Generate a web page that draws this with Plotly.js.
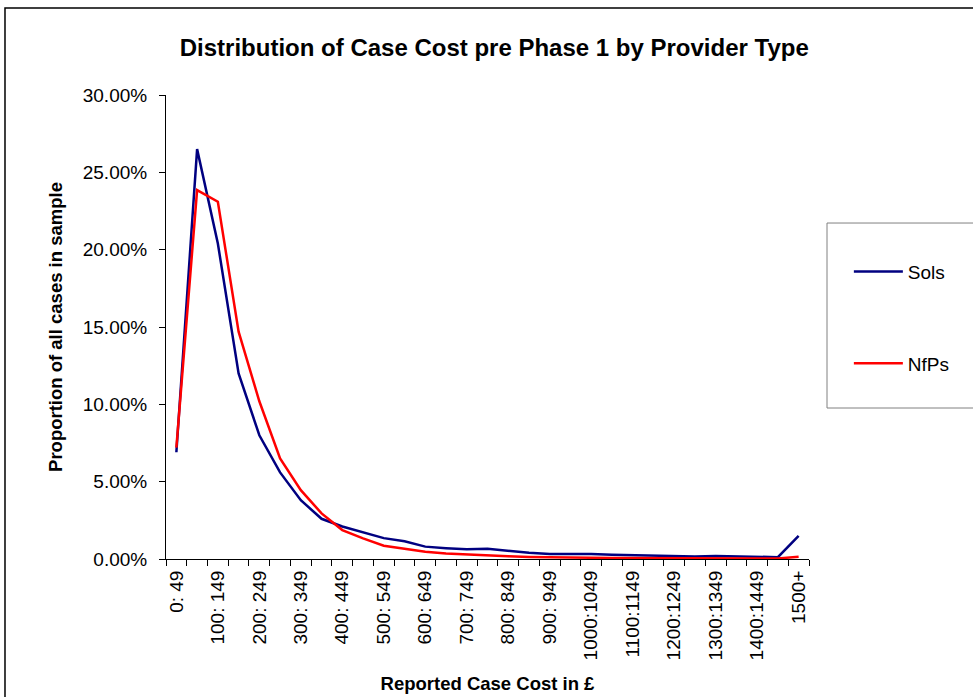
<!DOCTYPE html>
<html>
<head>
<meta charset="utf-8">
<script src="https://cdn.plot.ly/plotly-3.0.1.min.js"></script>
<style>
  html, body { margin: 0; padding: 0; background: white; }
  #chart { width: 973px; height: 697px; }
</style>
</head>
<body>
<div id="chart"></div>
<script>
/* cost bands (£) — every other one is labelled on the axis */
const BANDS = [
  '0: 49', '50: 99', '100: 149', '150: 199', '200: 249', '250: 299',
  '300: 349', '350: 399', '400: 449', '450: 499', '500: 549', '550: 599',
  '600: 649', '650: 699', '700: 749', '750: 799', '800: 849', '850: 899',
  '900: 949', '950: 999', '1000:1049', '1050:1099', '1100:1149', '1150:1199',
  '1200:1249', '1250:1299', '1300:1349', '1350:1399', '1400:1449', '1450:1499',
  '1500+'
];

/* proportion of all cases, in % */
const SOLS = [
  6.9, 26.5, 20.4, 12.0, 8.0, 5.6, 3.8, 2.6, 2.1, 1.7, 1.35, 1.15,
  0.8, 0.7, 0.63, 0.67, 0.55, 0.4, 0.33, 0.33, 0.32, 0.27, 0.24, 0.21,
  0.19, 0.16, 0.19, 0.16, 0.14, 0.12, 1.5
];
const NFPS = [
  7.2, 23.85, 23.1, 14.7, 10.2, 6.5, 4.45, 2.95, 1.87, 1.33, 0.86, 0.65,
  0.47, 0.35, 0.28, 0.22, 0.17, 0.13, 0.1, 0.09, 0.08, 0.07, 0.06, 0.05,
  0.05, 0.04, 0.04, 0.04, 0.03, 0.03, 0.15
];

const Y_TICKS = [0, 5, 10, 15, 20, 25, 30];

const FONT = 'Liberation Sans, Arial, sans-serif';

const traces = [
  { name: 'Sols', y: SOLS, color: '#000080', group: 'a' },
  { name: 'NfPs', y: NFPS, color: '#ff0000', group: 'b' },
].map(s => ({
  type: 'scatter', mode: 'lines',
  x: BANDS, y: s.y, name: s.name, legendgroup: s.group,
  line: { color: s.color, width: 2.5 },
  hoverinfo: 'skip',
}));

const layout = {
  width: 973, height: 697,
  paper_bgcolor: 'white', plot_bgcolor: 'white',
  font: { family: FONT, size: 19, color: '#000' },
  margin: { l: 166, r: 164, t: 95, b: 138 },
  showlegend: true,
  title: {
    text: '<b>Distribution of Case Cost pre Phase 1 by Provider Type</b>',
    font: { size: 24, family: FONT, color: '#000' },
    x: 0.508, xanchor: 'center', y: 1 - 48 / 697, yanchor: 'middle',
  },
  xaxis: {
    type: 'category', categoryorder: 'array', categoryarray: BANDS,
    range: [-0.5, BANDS.length - 0.5],
    tickmode: 'array', tickvals: BANDS,
    ticktext: BANDS.map((b, i) => (i % 2 === 0 ? b : '')),
    tickson: 'boundaries', ticks: 'outside', ticklen: 6, tickcolor: '#000',
    tickangle: -90, ticklabelstandoff: 3,
    tickfont: { size: 19 },
    showline: true, linecolor: '#000', linewidth: 1,
    showgrid: false, zeroline: false,
    title: { text: '<b>Reported Case Cost in £</b>', font: { size: 18.5 }, standoff: 17 },
  },
  yaxis: {
    range: [0, 30], tickvals: Y_TICKS,
    ticktext: Y_TICKS.map(v => v.toFixed(2) + '%'),
    ticks: 'outside', ticklen: 6, tickcolor: '#000', ticklabelstandoff: 8,
    tickfont: { size: 19 },
    showline: true, linecolor: '#000', linewidth: 1,
    showgrid: false, zeroline: false,
    title: { text: '<b>Proportion of all cases in sample</b>', font: { size: 18.5 }, standoff: 15 },
  },
  legend: {
    x: 1.062, xanchor: 'left', y: 0.66, yanchor: 'top',
    bgcolor: 'rgba(0,0,0,0)', borderwidth: 0,
    font: { size: 19 }, itemwidth: 49,
    traceorder: 'grouped', tracegroupgap: 64,
  },
  shapes: [
    /* outer chart frame */
    { type: 'rect', xref: 'paper', yref: 'paper',
      x0: -0.2504, x1: 1.4, y0: -0.5, y1: 1.1875,
      line: { color: '#000', width: 1.5 }, layer: 'below' },
    /* legend box */
    { type: 'rect', xref: 'paper', yref: 'paper',
      x0: 1.028, x1: 1.4, y0: 0.3254, y1: 0.7241,
      line: { color: '#808080', width: 1 }, fillcolor: 'white', layer: 'below' },
  ],
};

Plotly.newPlot('chart', traces, layout, { displayModeBar: false, staticPlot: true });
</script>
</body>
</html>
